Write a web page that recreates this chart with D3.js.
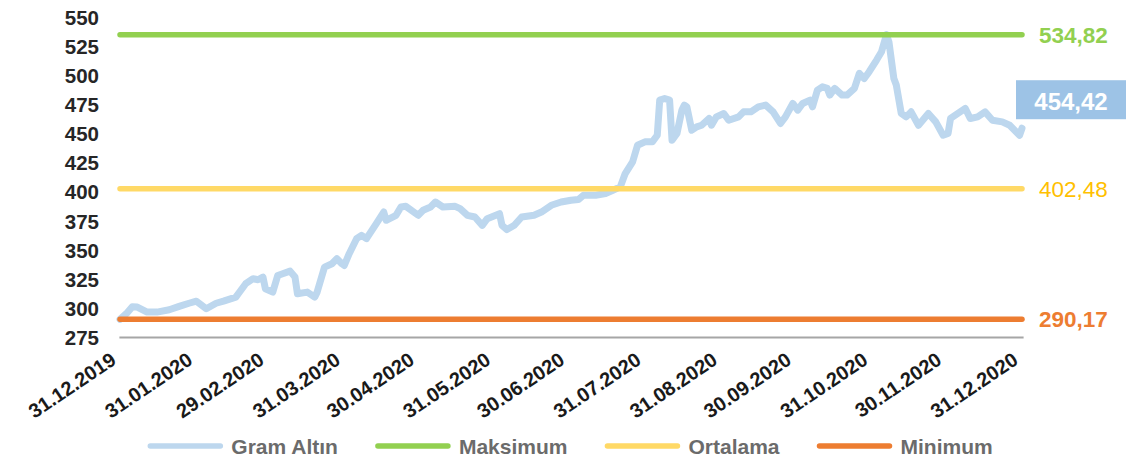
<!DOCTYPE html>
<html>
<head>
<meta charset="utf-8">
<script src="https://cdn.jsdelivr.net/npm/d3@7"></script>
<style>
  body { margin: 0; background: #fff; }
  svg { display: block; font-family: "Liberation Sans", Arial, sans-serif; }
</style>
</head>
<body>
<svg id="chart" width="1141" height="457"></svg>
<script>
// Gram gold price (TRY) through 2020
const dates = [
  "2019-12-31","2020-01-03","2020-01-05","2020-01-07","2020-01-11","2020-01-15","2020-01-20","2020-01-24","2020-01-28","2020-01-31",
  "2020-02-04","2020-02-08","2020-02-11","2020-02-16","2020-02-17","2020-02-20","2020-02-23","2020-02-25","2020-02-27","2020-02-28",
  "2020-03-02","2020-03-04","2020-03-06","2020-03-09","2020-03-11","2020-03-12","2020-03-16","2020-03-19","2020-03-20","2020-03-23",
  "2020-03-26","2020-03-28","2020-03-30","2020-03-31","2020-04-02","2020-04-05","2020-04-07","2020-04-09","2020-04-13","2020-04-16",
  "2020-04-17","2020-04-21","2020-04-23","2020-04-25","2020-04-30","2020-05-02","2020-05-05","2020-05-07","2020-05-10","2020-05-15",
  "2020-05-17","2020-05-20","2020-05-23","2020-05-26","2020-05-28","2020-06-02","2020-06-03","2020-06-05","2020-06-08","2020-06-11",
  "2020-06-16","2020-06-19","2020-06-23","2020-06-27","2020-07-01","2020-07-04","2020-07-06","2020-07-11","2020-07-15","2020-07-18",
  "2020-07-21","2020-07-23","2020-07-26","2020-07-28","2020-07-31","2020-08-03","2020-08-05","2020-08-06","2020-08-08","2020-08-10",
  "2020-08-11","2020-08-13","2020-08-15","2020-08-16","2020-08-17","2020-08-19","2020-08-21","2020-08-23","2020-08-26","2020-08-27",
  "2020-08-29","2020-09-01","2020-09-03","2020-09-07","2020-09-09","2020-09-12","2020-09-15","2020-09-18","2020-09-21","2020-09-24",
  "2020-09-26","2020-09-29","2020-10-01","2020-10-03","2020-10-06","2020-10-07","2020-10-09","2020-10-11","2020-10-13","2020-10-14",
  "2020-10-16","2020-10-19","2020-10-21","2020-10-24","2020-10-26","2020-10-28","2020-10-30","2020-11-02","2020-11-04","2020-11-06",
  "2020-11-07","2020-11-09","2020-11-10","2020-11-12","2020-11-14","2020-11-16","2020-11-19","2020-11-23","2020-11-26","2020-11-29",
  "2020-12-01","2020-12-02","2020-12-05","2020-12-08","2020-12-10","2020-12-13","2020-12-16","2020-12-19","2020-12-23","2020-12-26",
  "2020-12-30","2020-12-31"
];
const gramValues = [
  290.17,296.0,301.0,300.7,296.4,296.4,298.4,301.3,304.0,305.8,
  299.3,304.0,305.8,309.3,312.2,320.8,325.1,324.2,326.5,316.5,
  313.6,327.9,329.4,331.6,326.5,312.2,313.6,309.3,313.6,335.1,
  338.0,342.3,338.0,336.5,346.6,359.5,362.4,359.5,372.4,382.4,
  375.3,379.6,386.7,387.3,379.6,383.9,386.7,391.0,386.7,387.3,
  385.3,379.6,378.1,371.0,376.7,381.0,371.0,367.3,371.0,378.1,
  379.6,382.4,388.2,391.0,392.5,393.1,396.8,396.8,398.3,401.1,
  404.0,415.5,425.5,439.8,442.7,442.7,448.4,478.6,480.0,478.6,
  444.1,449.9,470.0,474.3,472.8,452.7,455.6,457.0,462.8,457.0,
  464.2,467.1,461.3,464.2,468.5,468.5,472.8,474.3,468.5,458.5,
  464.2,475.7,470.0,475.7,478.6,472.8,487.2,490.0,488.6,482.9,
  488.6,482.9,482.9,488.6,501.5,497.2,503.0,513.0,520.1,534.82,
  528.7,497.2,491.5,467.1,464.2,468.5,457.0,467.1,459.9,448.4,
  449.9,462.8,467.1,471.4,462.8,464.2,468.5,461.3,459.9,457.0,
  448.4,454.42
];

// Reference levels
const refNames = ["Maksimum", "Ortalama", "Minimum"];
const refValues = [534.82, 402.48, 290.17];
const refLabels = ["534,82", "402,48", "290,17"];
const lastLabel = "454,42";

// Axis ticks
const yTicks = [275, 300, 325, 350, 375, 400, 425, 450, 475, 500, 525, 550];
const xTickDates = [
  "2019-12-31","2020-01-31","2020-02-29","2020-03-31","2020-04-30","2020-05-31","2020-06-30",
  "2020-07-31","2020-08-31","2020-09-30","2020-10-31","2020-11-30","2020-12-31"
];
const legendNames = ["Gram Altın", "Maksimum", "Ortalama", "Minimum"];

// ---- drawing ----
const parse = d3.utcParse("%Y-%m-%d");
const series = dates.map((d, i) => ({ date: parse(d), value: gramValues[i] }));

const svg = d3.select("#chart");
const x = d3.scaleUtc().domain([parse(dates[0]), parse(dates[dates.length - 1])]).range([120, 1022]);
const y = d3.scaleLinear().domain([275, 550]).range([337, 17]);

const seriesColor = "#BDD7EE";
const refColors = ["#92D050", "#FFD966", "#ED7D31"];
const refTextColors = ["#92D050", "#FFC000", "#ED7D31"];
const refWeights = ["bold", "normal", "bold"];

// Y axis labels
const yAxis = svg.append("g").attr("transform", "translate(99,0)")
  .call(d3.axisLeft(y).tickValues(yTicks).tickSize(0).tickPadding(0));
yAxis.select(".domain").remove();
yAxis.selectAll("text")
  .attr("dy", "0.36em")
  .attr("fill", "#262626")
  .style("font-size", "20.5px")
  .style("font-weight", "bold")
  .style("font-family", "'Liberation Sans', Arial, sans-serif");

// X axis
const xAxis = svg.append("g").attr("transform", `translate(0,${y(275)})`)
  .call(d3.axisBottom(x).tickValues(xTickDates.map(parse)).tickFormat(d3.utcFormat("%d.%m.%Y")).tickSize(0).tickSizeOuter(0));
xAxis.select(".domain")
  .attr("stroke", "#A6A6A6")
  .attr("stroke-width", 2.2)
  .attr("stroke-linecap", "square");
xAxis.selectAll("text")
  .attr("x", 0).attr("y", 0).attr("dy", null)
  .attr("text-anchor", "end")
  .attr("transform", "translate(-3,26) rotate(-34)")
  .attr("fill", "#1a1a1a")
  .style("font-size", "20px")
  .style("font-weight", "bold")
  .style("font-family", "'Liberation Sans', Arial, sans-serif");

// Gram Altın line
const line = d3.line().x(d => x(d.date)).y(d => y(d.value)).curve(d3.curveLinear);
svg.append("path")
  .datum(series)
  .attr("d", line)
  .attr("fill", "none")
  .attr("stroke", seriesColor)
  .attr("stroke-width", 7)
  .attr("stroke-linejoin", "round")
  .attr("stroke-linecap", "round");

// Reference lines and their value labels
const [x0, x1] = x.domain();
refValues.forEach((v, i) => {
  svg.append("line")
    .attr("x1", x(x0)).attr("x2", x(x1))
    .attr("y1", y(v)).attr("y2", y(v))
    .attr("stroke", refColors[i])
    .attr("stroke-width", 5.5)
    .attr("stroke-linecap", "round");
  svg.append("text")
    .attr("x", x(x1) + 17)
    .attr("y", y(v))
    .attr("dy", "0.36em")
    .attr("fill", refTextColors[i])
    .style("font-size", "22.5px")
    .style("font-weight", refWeights[i])
    .text(refLabels[i]);
});

// Last value callout
const last = series[series.length - 1];
const boxX = x(last.date) - 6, boxW = 110, boxH = 39;
const boxY = y(last.value) - 48;
svg.append("rect")
  .attr("x", boxX).attr("y", boxY)
  .attr("width", boxW).attr("height", boxH)
  .attr("fill", "#9DC3E6");
svg.append("text")
  .attr("x", boxX + boxW / 2)
  .attr("y", boxY + boxH / 2 + 1.5)
  .attr("dy", "0.36em")
  .attr("text-anchor", "middle")
  .attr("fill", "#ffffff")
  .style("font-size", "24px")
  .style("font-weight", "bold")
  .text(lastLabel);

// Legend
const legendColors = [seriesColor, ...refColors];
const legend = svg.append("g");
let cursor = 0;
legendNames.forEach((name, i) => {
  const g = legend.append("g").attr("transform", `translate(${cursor},0)`);
  g.append("line")
    .attr("x1", 3).attr("x2", 73)
    .attr("y1", 0).attr("y2", 0)
    .attr("stroke", legendColors[i])
    .attr("stroke-width", 5.5)
    .attr("stroke-linecap", "round");
  const t = g.append("text")
    .attr("x", 84).attr("y", 0).attr("dy", "0.36em")
    .attr("fill", "#6b6b6b")
    .style("font-size", "21px")
    .style("font-weight", "bold")
    .text(name);
  cursor += 84 + t.node().getComputedTextLength() + 37;
});
const legendWidth = cursor - 37;
legend.attr("transform", `translate(${570 - legendWidth / 2},446)`);
</script>
</body>
</html>
